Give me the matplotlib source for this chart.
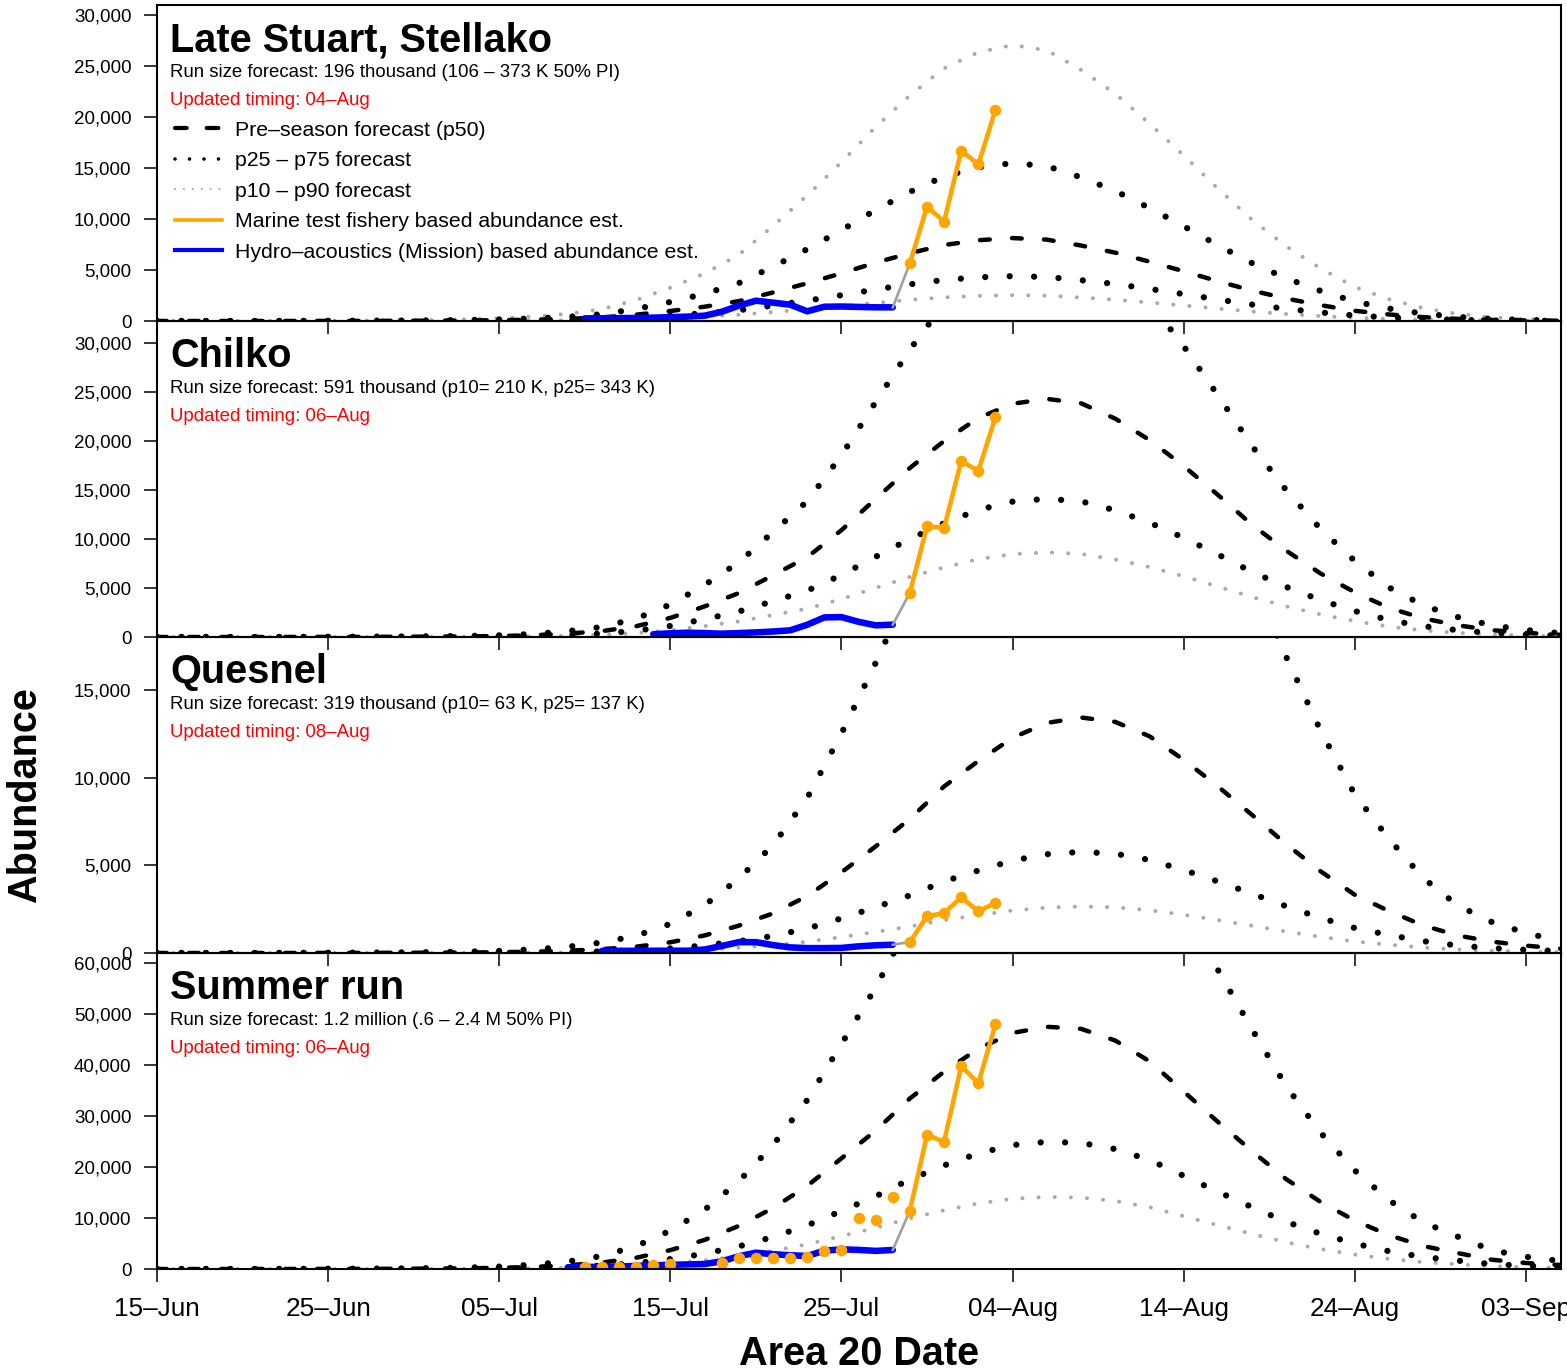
import numpy as np
import matplotlib.pyplot as plt
from matplotlib.lines import Line2D
from matplotlib.ticker import FuncFormatter

plt.rcParams['font.family'] = ['Liberation Sans', 'DejaVu Sans']

# pre-season p50 timing curves, read every 2 days from 15-Jun (day 0)
fc_days = np.arange(0, 84, 2)
p50_stuart = [0, 0, 0, 0, 5, 8, 12, 20, 30, 50, 80, 130, 210, 350, 620, 980, 1400, 1950, 2800,
              3700, 4680, 5720, 6650, 7450, 7920, 8130, 7980, 7400, 6700, 5820, 4880, 3900, 2980,
              2200, 1550, 1000, 640, 380, 210, 110, 55, 25]
p50_chilko = [0, 0, 0, 0, 5, 10, 15, 25, 40, 60, 100, 180, 350, 600, 1100, 1950, 3120, 4480, 6300,
              8150, 10900, 14100, 17250, 20000, 22350, 23800, 24300, 23850, 22280, 20100, 17450,
              14500, 11450, 8800, 6480, 4560, 2970, 1900, 1200, 700, 420, 230]
p50_quesnel = [0, 0, 0, 0, 3, 5, 8, 12, 18, 28, 45, 75, 130, 220, 360, 610, 1000, 1560, 2260, 3250,
               4600, 6080, 7650, 9500, 10950, 12270, 13120, 13430, 13180, 12360, 11020, 9500, 7870,
               6200, 4660, 3320, 2390, 1570, 1000, 650, 420, 250]
p50_summer = [0, 0, 0, 5, 10, 20, 30, 50, 80, 130, 230, 420, 720, 1250, 2200, 3700, 5700, 8450,
              11950, 16300, 21700, 27150, 33450, 38700, 43200, 46300, 47500, 47100, 44800, 40750,
              34800, 28850, 23100, 17600, 13150, 9500, 6630, 4500, 3130, 1820, 1180, 780]

# run size quantiles (thousands): p10, p25, p50, p75, p90
rs_stuart = [61, 106, 196, 373, 652]
rs_chilko = [210, 343, 591, 1005, None]
rs_quesnel = [63, 137, 319, 868, None]
rs_summer = [357, 630, 1200, 2440, None]

# hydro-acoustic (Mission) daily estimates
blue_days_stuart = list(range(25, 44))
blue_stuart = [260, 270, 280, 300, 330, 380, 430, 520, 900, 1500, 1990, 1800, 1600, 950, 1400,
               1420, 1380, 1340, 1340]
blue_days_chilko = list(range(29, 44))
blue_chilko = [280, 380, 440, 400, 340, 400, 470, 560, 680, 1250, 2000, 2030, 1550, 1190, 1260]
blue_days_quesnel = list(range(26, 44))
blue_quesnel = [120, 120, 130, 130, 130, 130, 200, 400, 620, 620, 450, 320, 280, 280, 290, 380,
                440, 470]
blue_days_summer = list(range(24, 44))
blue_summer = [330, 380, 440, 500, 600, 720, 820, 900, 980, 1500, 2500, 3200, 2900, 2700, 2550,
               3600, 3850, 3750, 3550, 3730]

# marine test fishery estimates
orange_days = [44, 45, 46, 47, 48, 49]
orange_stuart = [5660, 11200, 9750, 16700, 15350, 20700]
orange_chilko = [4520, 11300, 11150, 17950, 16950, 22450]
orange_quesnel = [630, 2090, 2280, 3170, 2380, 2850]
orange_summer = [11440, 26300, 24950, 39800, 36400, 48000]
early_days_summer = [25, 26, 27, 28, 29, 30, 33, 34, 35, 36, 37, 38, 39, 40, 41, 42, 43]
early_summer = [450, 450, 450, 450, 780, 980, 1240, 2090, 2220, 2220, 2090, 2290, 3530, 3730,
                9940, 9610, 14180]

stocks = ['Late Stuart, Stellako', 'Chilko', 'Quesnel', 'Summer run']
run_text = ['Run size forecast: 196 thousand (106 \u2013 373 K 50% PI)',
            'Run size forecast: 591 thousand (p10= 210 K, p25= 343 K)',
            'Run size forecast: 319 thousand (p10= 63 K, p25= 137 K)',
            'Run size forecast: 1.2 million (.6 \u2013 2.4 M 50% PI)']
timing_text = ['Updated timing: 04\u2013Aug', 'Updated timing: 06\u2013Aug',
               'Updated timing: 08\u2013Aug', 'Updated timing: 06\u2013Aug']
y_max = [30980, 32245, 18020, 61970]
y_step = [5000, 5000, 5000, 10000]
tick_days = [0, 10, 20, 30, 40, 50, 60, 70, 80]
tick_labels = ['15\u2013Jun', '25\u2013Jun', '05\u2013Jul', '15\u2013Jul', '25\u2013Jul',
               '04\u2013Aug', '14\u2013Aug', '24\u2013Aug', '03\u2013Sep']

p50s = [p50_stuart, p50_chilko, p50_quesnel, p50_summer]
run_sizes = [rs_stuart, rs_chilko, rs_quesnel, rs_summer]
blue_days = [blue_days_stuart, blue_days_chilko, blue_days_quesnel, blue_days_summer]
blues = [blue_stuart, blue_chilko, blue_quesnel, blue_summer]
oranges = [orange_stuart, orange_chilko, orange_quesnel, orange_summer]

ORANGE = '#FFA500'
BLUE = '#0000FF'
GREY = '#AAAAAA'

dash_style = dict(color='black', lw=3.2, ls=(0, (2.2, 5.0)), dash_capstyle='round')
dot_style = dict(color='black', lw=4.5, ls=(0, (0.01, 3.9)), dash_capstyle='round')
grey_style = dict(color=GREY, lw=2.9, ls=(0, (0.01, 4.0)), dash_capstyle='round')

W, H = 1567, 1370
left, right = 157, 1561
top0, ph = 5, 316

fig = plt.figure(figsize=(W / 100, H / 100), dpi=100)

for i in range(4):
    ax = fig.add_axes([left / W, 1 - (top0 + ph * (i + 1)) / H, (right - left) / W, ph / H])
    ax.patch.set_visible(False)
    p50 = np.array(p50s[i], dtype=float)
    rs = run_sizes[i]

    if rs[4] is not None:
        ax.plot(fc_days, p50 * rs[4] / rs[2], **grey_style)
    ax.plot(fc_days, p50 * rs[0] / rs[2], **grey_style)
    ax.plot(fc_days, p50 * rs[3] / rs[2], **dot_style)
    ax.plot(fc_days, p50 * rs[1] / rs[2], **dot_style)
    ax.plot(fc_days, p50, **dash_style)

    ax.plot(blue_days[i], blues[i], color=BLUE, lw=4.7, solid_capstyle='round',
            solid_joinstyle='round')
    if i == 3:
        ax.plot(early_days_summer, early_summer, 'o', color=ORANGE, ms=8.3, mew=0)
    ax.plot([blue_days[i][-1], orange_days[0]], [blues[i][-1], oranges[i][0]],
            color='#A0A0A0', lw=1.9)
    ax.plot(orange_days, oranges[i], color=ORANGE, lw=3.3, marker='o', ms=8.3, mew=0,
            solid_joinstyle='round')

    ax.set_xlim(0, 82.05)
    ax.set_ylim(0, y_max[i])
    ax.set_yticks(np.arange(0, y_max[i], y_step[i]))
    ax.yaxis.set_major_formatter(FuncFormatter(lambda v, _: f'{int(v):,}'))
    ax.set_xticks(tick_days)
    ax.set_xticklabels(tick_labels)
    for s in ax.spines.values():
        s.set_linewidth(1.5)
    ax.tick_params(axis='y', direction='out', length=9.4, width=1.1, labelsize=13.5, pad=8.9)
    ax.tick_params(axis='x', direction='out', length=9.4, width=1.1, labelsize=18.8, pad=10.5,
                   labelbottom=(i == 3))

    tx = (170 - left) / (right - left)
    ax.text(tx, 1 - 46 / ph, stocks[i], transform=ax.transAxes, fontsize=28.6, weight='bold',
            va='baseline')
    ax.text(tx, 1 - 72.3 / ph, run_text[i], transform=ax.transAxes, fontsize=13.4,
            va='baseline')
    ax.text(tx, 1 - 100 / ph, timing_text[i], transform=ax.transAxes, fontsize=13.4,
            color='red', va='baseline')

    if i == 0:
        handles = [
            Line2D([], [], color='black', lw=3.0, ls=(0, (2.8, 4.8)), dash_capstyle='round'),
            Line2D([], [], color='black', lw=2.6, ls=(0, (0.01, 4.0)), dash_capstyle='round'),
            Line2D([], [], color=GREY, lw=1.6, ls=(0, (0.01, 4.0)), dash_capstyle='round'),
            Line2D([], [], color=ORANGE, lw=2.6),
            Line2D([], [], color=BLUE, lw=3.0),
        ]
        labels = ['Pre\u2013season forecast (p50)', 'p25 \u2013 p75 forecast',
                  'p10 \u2013 p90 forecast', 'Marine test fishery based abundance est.',
                  'Hydro\u2013acoustics (Mission) based abundance est.']
        ax.legend(handles, labels, loc='upper left',
                  bbox_to_anchor=((175 - left) / (right - left), 1 - (120.5 - top0) / ph),
                  frameon=False, borderpad=0, borderaxespad=0, fontsize=15.3,
                  handlelength=2.21, handletextpad=0.61, labelspacing=0.545)

fig.text(25 / W, 1 - 795 / H, 'Abundance', rotation=90, ha='center', va='center',
         fontsize=28.5, weight='bold')
fig.text((left + right) / 2 / W, 5 / H, 'Area 20 Date', ha='center', va='baseline',
         fontsize=28.5, weight='bold')

fig.savefig('out.png', dpi=100)
